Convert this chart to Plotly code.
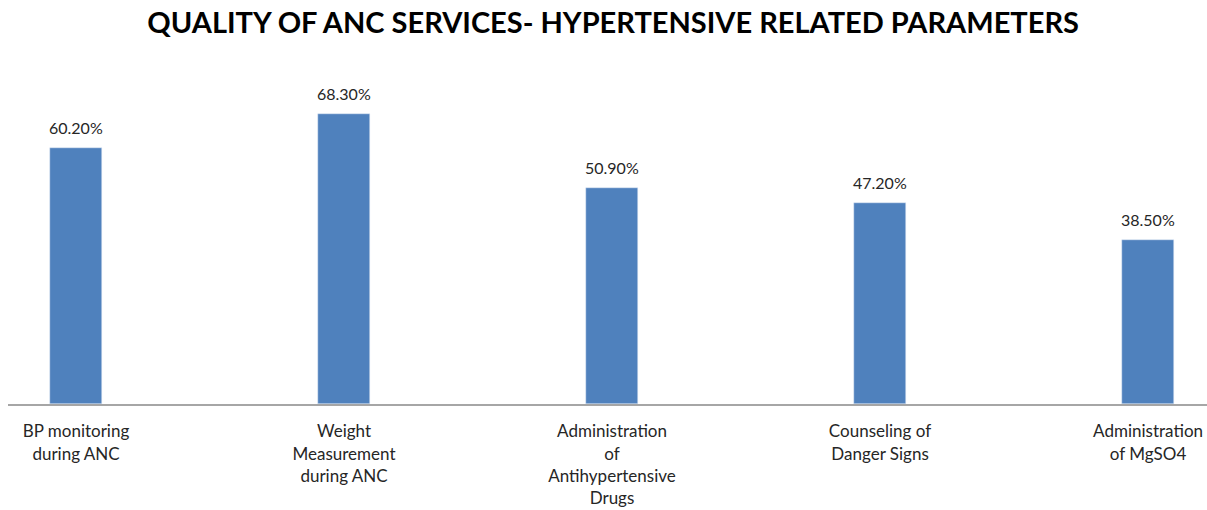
import plotly.graph_objects as go

categories = ["BP monitoring<br>during ANC", "Weight<br>Measurement<br>during ANC",
              "Administration<br>of<br>Antihypertensive<br>Drugs", "Counseling of<br>Danger Signs",
              "Administration<br>of MgSO4"]
values = [60.2, 68.3, 50.9, 47.2, 38.5]
title = "QUALITY OF ANC SERVICES- HYPERTENSIVE RELATED PARAMETERS"

xs = list(range(len(categories)))
fig = go.Figure(go.Bar(
    x=xs, y=values, width=0.194, marker_color="#4F81BD",
))
for xv, v in zip(xs, values):
    fig.add_annotation(x=xv, y=v, text=f"{v:.2f}%", showarrow=False, yanchor="bottom",
                       yshift=9, font=dict(family="Lato", size=16, color="#262626"))
fig.update_layout(
    width=1207, height=510, margin=dict(l=8, r=0, t=64, b=106),
    paper_bgcolor="white", plot_bgcolor="white", showlegend=False,
    title=dict(text="<b>" + title + "</b>", x=0.508, xanchor="center", y=0.955, yanchor="middle",
               font=dict(family="Lato", size=29, color="#000000")),
    bargap=0,
)
fig.update_xaxes(range=[-0.2537, 4.22], tickvals=xs, ticktext=categories,
                 showline=True, linecolor="#A6A6A6", linewidth=2, showgrid=False, zeroline=False,
                 ticks="outside", ticklen=11, tickcolor="rgba(0,0,0,0)",
                 tickfont=dict(family="Lato", size=17, color="#262626"))
fig.update_yaxes(range=[0, 80], visible=False)
fig.write_html("out.html")
